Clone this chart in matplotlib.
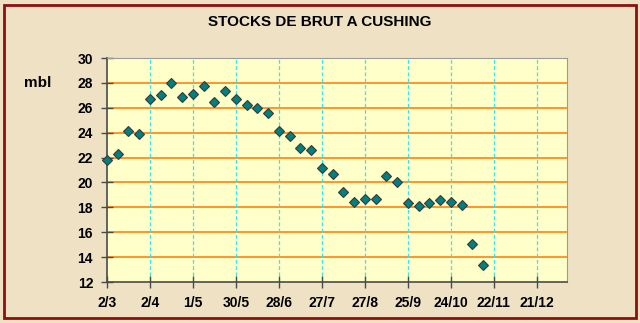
import matplotlib.pyplot as plt
from matplotlib.patches import Rectangle

# stocks hebdomadaires (millions de barils)
stocks = [21.8, 22.3, 24.1, 23.9, 26.7, 27.0, 28.0, 26.9, 27.1, 27.75,
          26.5, 27.35, 26.7, 26.2, 26.0, 25.55, 24.1, 23.7, 22.8, 22.6,
          21.2, 20.7, 19.2, 18.4, 18.7, 18.65, 20.5, 20.0, 18.35, 18.1,
          18.35, 18.6, 18.4, 18.2, 15.05, 13.35]
tick_labels = ["2/3", "2/4", "1/5", "30/5", "28/6", "27/7", "27/8",
               "25/9", "24/10", "22/11", "21/12"]
weeks = list(range(len(stocks)))
tick_pos = [4 * i for i in range(len(tick_labels))]

plt.rcParams['font.family'] = ['Liberation Sans', 'DejaVu Sans']

fig = plt.figure(figsize=(6.4, 3.23), dpi=100)
fig.patch.set_facecolor("#EFE1C4")
fig.patches.append(Rectangle((4 / 640, 5 / 323), 632 / 640, 313 / 323,
                             transform=fig.transFigure, fill=False,
                             edgecolor="#8B1010", linewidth=2))

ax = fig.add_axes([107 / 640, 1 - 282 / 323, 460 / 640, 224 / 323])
ax.set_facecolor("#FFFFCA")

ax.plot(weeks, stocks, linestyle="none", marker="D", markersize=5.5,
        markerfacecolor="#00807F", markeredgecolor="#3A3A3A",
        markeredgewidth=0.8, zorder=5, clip_on=False)

ax.set_xlim(0, 42.8)
ax.set_ylim(12, 30)
ax.set_yticks(range(12, 31, 2))
ax.set_xticks(tick_pos)
ax.set_xticklabels(tick_labels)

# grilles
for y in range(14, 30, 2):
    ax.axhline(y, color="#FF8C1E", linewidth=1.3, zorder=1)
for x in tick_pos[1:]:
    ax.axvline(x, color="#33E6F0", linewidth=0.9, linestyle=(0, (3, 2)), zorder=1)

for s in ["left", "bottom"]:
    ax.spines[s].set_color("#4A4A4A")
    ax.spines[s].set_linewidth(1.2)
for s in ["top", "right"]:
    ax.spines[s].set_color("#9A9A9A")
    ax.spines[s].set_linewidth(0.8)

ax.tick_params(direction="inout", length=8, width=1, color="#4A4A4A",
               labelsize=10, pad=6)
for lbl in ax.get_xticklabels() + ax.get_yticklabels():
    lbl.set_fontweight("bold")

fig.text(0.5, 1 - 22 / 323, "STOCKS DE BRUT A CUSHING", ha="center",
         va="center", fontsize=11, fontweight="bold")
fig.text(38 / 640, 1 - 83 / 323, "mbl", ha="center", va="center",
         fontsize=11, fontweight="bold")

plt.savefig("out.png", dpi=100, facecolor=fig.get_facecolor())
